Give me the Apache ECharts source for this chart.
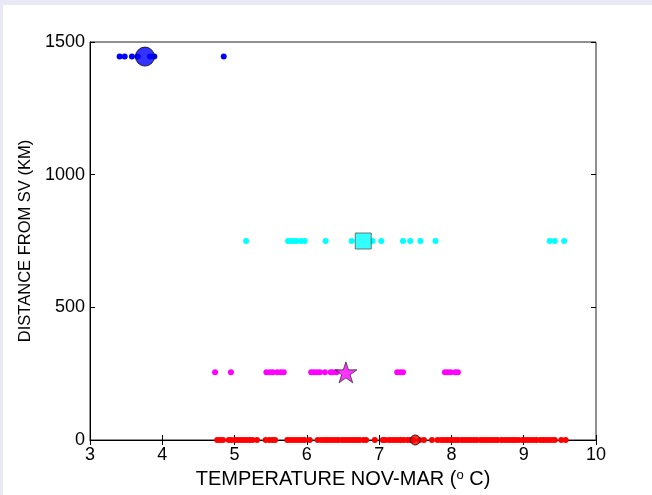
<!DOCTYPE html>
<html>
<head>
<meta charset="utf-8">
<script src="https://cdn.jsdelivr.net/npm/echarts@6/dist/echarts.min.js"></script>
<style>
html,body{margin:0;padding:0;background:#e9e9f6;width:652px;height:495px;overflow:hidden;}
#chart{position:absolute;left:3px;top:5px;width:649px;height:490px;background:#fff;}
</style>
</head>
<body>
<div id="chart"></div>
<script>
// Distances (km) of each group
const blueDist = 1445, cyanDist = 750, magentaDist = 255, redDist = 0;
// Temperature observations per group (deg C)
const blueTemps = [3.41, 3.48, 3.58, 3.66, 3.83, 3.89, 4.85];
const cyanTemps = [5.16, 5.74, 5.78, 5.82, 5.86, 5.92, 5.97, 6.26, 6.62, 6.91, 7.03, 7.33, 7.43, 7.57, 7.78, 9.36, 9.43, 9.56];
const magentaTemps = [4.73, 4.95, 5.44, 5.49, 5.53, 5.59, 5.64, 5.68, 6.06, 6.10, 6.14, 6.18, 6.25, 6.33, 6.36, 6.41, 7.25, 7.29, 7.33, 7.91, 7.95, 7.99, 8.05, 8.09];
const redTemps = [4.76, 4.80, 4.84, 4.92, 4.96, 5.01, 5.05, 5.09, 5.13, 5.17, 5.21, 5.25, 5.31, 5.43, 5.48, 5.52, 5.56,
  5.73, 5.77, 5.81, 5.85, 5.89, 5.93, 5.97, 6.04, 6.15, 6.20, 6.24, 6.28, 6.32, 6.36, 6.40, 6.44, 6.49, 6.53, 6.57,
  6.61, 6.65, 6.69, 6.73, 6.78, 6.82, 6.94, 7.05, 7.09, 7.14, 7.18, 7.22, 7.26, 7.30, 7.34, 7.39, 7.43, 7.47, 7.56,
  7.62, 7.73, 7.81, 7.86, 7.90, 7.94, 7.98, 8.02, 8.06, 8.10, 8.15, 8.19, 8.23, 8.27, 8.31, 8.35, 8.40, 8.44, 8.48,
  8.52, 8.56, 8.60, 8.64, 8.69, 8.73, 8.77, 8.81, 8.85, 8.89, 8.93, 8.98, 9.02, 9.06, 9.10, 9.14, 9.18, 9.23, 9.27,
  9.31, 9.35, 9.39, 9.43, 9.52, 9.58];
// Group mean markers
const blueMean = [3.76, 1445];
const cyanMean = [6.78, 750];
const magentaMean = [6.54, 255];
const redMean = [7.50, 0];
// Axis ticks
const xTicks = [3, 4, 5, 6, 7, 8, 9, 10];
const yTicks = [0, 500, 1000, 1500];

const chart = echarts.init(document.getElementById('chart'));
const FONT = 'Liberation Sans';
const star = 'path://M100 0 L122.45 69.1 L195.1 69.1 L136.3 111.8 L158.8 180.9 L100 138.2 L41.2 180.9 L63.7 111.8 L4.9 69.1 L77.55 69.1 Z';
const pts = (arr, y) => arr.map(v => [v, y]);
const dotSeries = (data, color) => ({
  type: 'scatter', data, symbol: 'circle', symbolSize: 6, silent: true,
  itemStyle: { color, opacity: 1 }, z: 2
});
const xMin = xTicks[0], xMax = xTicks[xTicks.length - 1];
const yMin = yTicks[0], yMax = yTicks[yTicks.length - 1];
const tickCommon = { show: true, inside: true, length: 5, lineStyle: { color: '#000', width: 1 } };
chart.setOption({
  animation: false,
  backgroundColor: '#fff',
  grid: { left: 87, right: 56, top: 37, bottom: 55, show: true, borderColor: '#222', borderWidth: 1, backgroundColor: '#fff' },
  xAxis: [{
    type: 'value', min: xMin, max: xMax, interval: 1,
    axisLine: { show: true, lineStyle: { color: '#000' } },
    axisTick: tickCommon, splitLine: { show: false },
    axisLabel: { color: '#000', fontFamily: FONT, fontSize: 18, margin: 6, formatter: v => String(v) },
    name: '{a|TEMPERATURE NOV-MAR (}{s|o}{a| C)}', nameLocation: 'middle', nameGap: 28,
    nameTextStyle: { rich: { a: { fontFamily: FONT, fontSize: 20, color: '#000' }, s: { fontFamily: FONT, fontSize: 13, color: '#000', verticalAlign: 'top', padding: [0, 0, 9, 0] } } }
  }, {
    type: 'value', position: 'top', min: xMin, max: xMax, interval: 1,
    axisLine: { show: false }, axisTick: tickCommon, axisLabel: { show: false }, splitLine: { show: false }
  }],
  yAxis: [{
    type: 'value', min: yMin, max: yMax, interval: 500,
    axisLine: { show: true, lineStyle: { color: '#000' } },
    axisTick: tickCommon, splitLine: { show: false },
    axisLabel: { color: '#000', fontFamily: FONT, fontSize: 18, margin: 5, formatter: v => String(v) },
    name: 'DISTANCE FROM SV (KM)', nameLocation: 'middle', nameGap: 55, nameRotate: 90,
    nameTextStyle: { fontFamily: FONT, fontSize: 16.5, color: '#000' }
  }, {
    type: 'value', position: 'right', min: yMin, max: yMax, interval: 500,
    axisLine: { show: false }, axisTick: tickCommon, axisLabel: { show: false }, splitLine: { show: false }
  }],
  series: [
    dotSeries(pts(redTemps, redDist), '#ff0000'),
    dotSeries(pts(magentaTemps, magentaDist), '#ff00ff'),
    dotSeries(pts(cyanTemps, cyanDist), '#00ffff'),
    dotSeries(pts(blueTemps, blueDist), '#0000ff'),
    { type: 'scatter', data: [blueMean], symbol: 'circle', symbolSize: 19, silent: true, z: 3,
      itemStyle: { color: '#0000ff', borderColor: '#000', borderWidth: 1 } },
    { type: 'scatter', data: [cyanMean], symbol: 'rect', symbolSize: 16, silent: true, z: 3,
      itemStyle: { color: '#00ffff', borderColor: '#555', borderWidth: 1 } },
    { type: 'scatter', data: [magentaMean], symbol: star, symbolKeepAspect: true, symbolSize: 22, silent: true, z: 3,
      itemStyle: { color: '#ff00ff', borderColor: '#333', borderWidth: 1 } },
    { type: 'scatter', data: [redMean], symbol: 'circle', symbolSize: 10, silent: true, z: 3,
      itemStyle: { color: '#ff0000', borderColor: '#000', borderWidth: 1 } }
  ]
});
</script>
</body>
</html>
